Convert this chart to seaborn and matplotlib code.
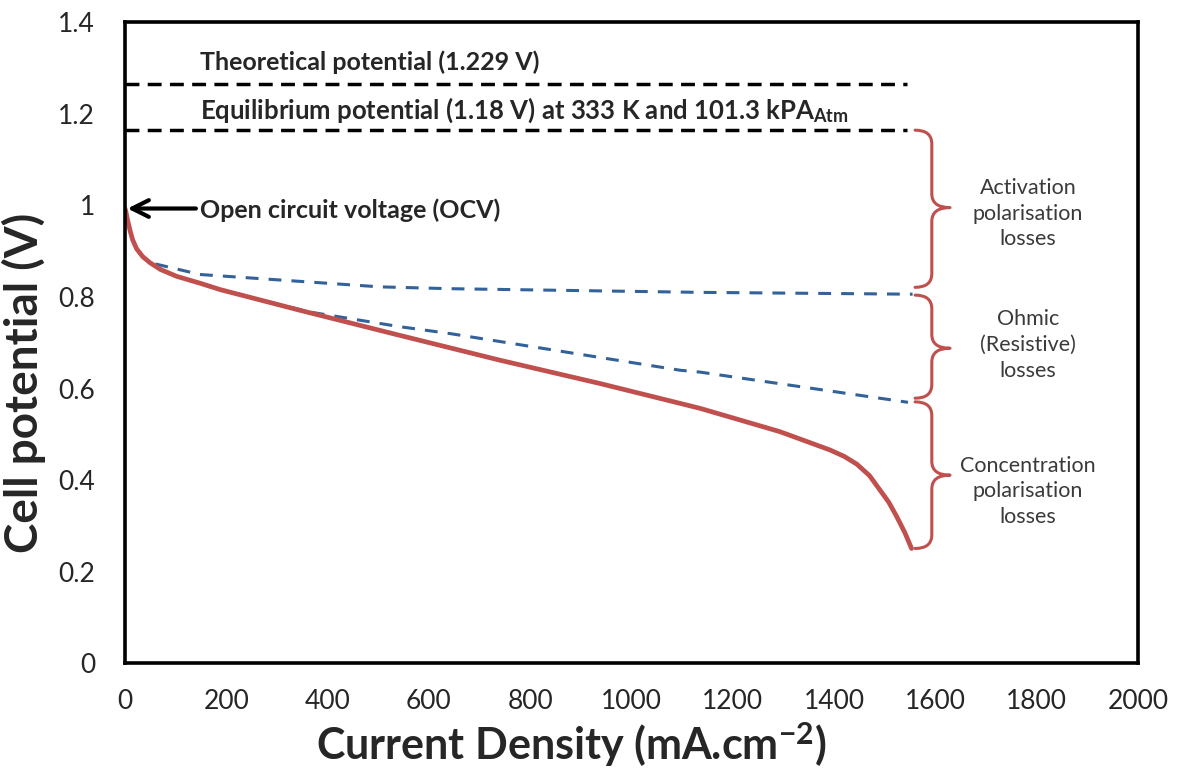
import matplotlib
matplotlib.use("Agg")
import matplotlib.pyplot as plt
from matplotlib.path import Path
from matplotlib.patches import PathPatch
import seaborn as sns
import pandas as pd

# ---------------- data ----------------
current = [0, 2, 5, 10, 15, 23, 35, 49, 70, 102, 148, 188, 345, 543, 740,
           938, 1135, 1293, 1392, 1420, 1445, 1470, 1491, 1508, 1524, 1540, 1553]
potential = [0.993, 0.985, 0.968, 0.945, 0.925, 0.905, 0.888, 0.875, 0.860,
             0.845, 0.830, 0.816, 0.771, 0.716, 0.662, 0.611, 0.557, 0.506,
             0.466, 0.452, 0.435, 0.410, 0.378, 0.352, 0.320, 0.285, 0.251]

activation_x = [60, 148, 503, 642, 1135, 1555]
activation_v = [0.872, 0.849, 0.822, 0.818, 0.810, 0.806]

ohmic_x = [150, 214, 365, 543, 642, 1096, 1135, 1546]
ohmic_v = [0.830, 0.808, 0.767, 0.735, 0.720, 0.640, 0.636, 0.570]

ref_x = [0, 1545]
theoretical_v = 1.264
equilibrium_v = 1.164

# braces: (top, bottom, tip) in V
brace_spans = [(1.164, 0.821, 0.995), (0.804, 0.579, 0.688), (0.571, 0.251, 0.411)]
brace_labels = ["Activation\npolarisation\nlosses",
                "Ohmic\n(Resistive)\nlosses",
                "Concentration\npolarisation\nlosses"]
brace_label_v = [0.982, 0.695, 0.376]

xticks = [0, 200, 400, 600, 800, 1000, 1200, 1400, 1600, 1800, 2000]
yticks = [0, 0.2, 0.4, 0.6, 0.8, 1.0, 1.2, 1.4]
ytick_labels = ["0", "0.2", "0.4", "0.6", "0.8", "1", "1.2", "1.4"]

# ---------------- style ----------------
sns.set_style("white")
plt.rcParams["font.family"] = ["Lato", "DejaVu Sans"]
plt.rcParams["mathtext.fontset"] = "custom"
plt.rcParams["mathtext.rm"] = "Lato"
plt.rcParams["mathtext.bf"] = "Lato:bold"
plt.rcParams["mathtext.it"] = "Lato:italic"

RED = "#C0504D"
BLUE = "#33619A"

fig = plt.figure(figsize=(11.78, 7.76), dpi=100)
ax = fig.add_axes([0.1061, 0.1450, 0.8599, 0.8266])

df_curve = pd.DataFrame({"x": current, "v": potential})
df_act = pd.DataFrame({"x": activation_x, "v": activation_v})
df_ohm = pd.DataFrame({"x": ohmic_x, "v": ohmic_v})
df_th = pd.DataFrame({"x": ref_x, "v": [theoretical_v] * 2})
df_eq = pd.DataFrame({"x": ref_x, "v": [equilibrium_v] * 2})

for d in (df_th, df_eq):
    sns.lineplot(data=d, x="x", y="v", ax=ax, color="black", lw=2.5,
                 estimator=None, linestyle=(0, (4.0, 2.4)))
for d in (df_act, df_ohm):
    sns.lineplot(data=d, x="x", y="v", ax=ax, color=BLUE, lw=2.2,
                 estimator=None, linestyle=(0, (4.2, 3.3)))
sns.lineplot(data=df_curve, x="x", y="v", ax=ax, color=RED, lw=3.4,
             estimator=None, solid_capstyle="round", solid_joinstyle="round")

ax.set_xlim(0, 2000)
ax.set_ylim(0, 1.4)
ax.set_xticks(xticks)
ax.set_xticklabels([str(t) for t in xticks])
ax.set_yticks(yticks)
ax.set_yticklabels(ytick_labels)
ax.set_xticks(range(0, 2001, 50), minor=True)
ax.set_yticks([i * 0.04 for i in range(36)], minor=True)

for s in ax.spines.values():
    s.set_linewidth(2.6)
    s.set_color("black")
ax.tick_params(axis="both", which="major", direction="inout", length=11,
               width=2.2, labelsize=19, labelcolor="#262626", color="black")
ax.tick_params(axis="x", which="major", pad=13)
ax.tick_params(axis="y", which="major", pad=16)
ax.tick_params(axis="x", which="minor", direction="in", length=4.5, width=2)
ax.tick_params(axis="y", which="minor", direction="out", length=3.5, width=2)

ax.set_xlabel("Current Density (mA.cm$^{\\mathbf{-2}}$)", fontsize=31,
              fontweight="bold")
ax.set_ylabel("Cell potential (V)", fontsize=33, fontweight="bold")
ax.xaxis.set_label_coords(0.441, -0.088)
ax.yaxis.set_label_coords(-0.078, 0.437)

# annotations
ax.text(148, 1.312, "Theoretical potential (1.229 V)", fontsize=18,
        fontweight="bold", va="center", ha="left")
ax.text(148, 1.207,
        "Equilibrium potential (1.18 V) at 333 K and 101.3 kPA$_{\\mathbf{Atm}}$",
        fontsize=18.5, fontweight="bold", va="center", ha="left")
ax.text(148, 0.989, "Open circuit voltage (OCV)", fontsize=18,
        fontweight="bold", va="center", ha="left")
ax.annotate("", xy=(5, 0.993), xytext=(140, 0.993),
            arrowprops=dict(arrowstyle="->", lw=3, color="black",
                            mutation_scale=30, shrinkA=0, shrinkB=0))


def draw_brace(top, bot, tip, xl=1560, xm=1593, xt=1629, ry=0.03):
    verts = [(xl, top), (xm, top), (xm, top - ry),
             (xm, tip + ry),
             (xm, tip), (xt, tip),
             (xm, tip), (xm, tip - ry),
             (xm, bot + ry),
             (xm, bot), (xl, bot)]
    codes = [Path.MOVETO, Path.CURVE3, Path.CURVE3,
             Path.LINETO,
             Path.CURVE3, Path.CURVE3,
             Path.CURVE3, Path.CURVE3,
             Path.LINETO,
             Path.CURVE3, Path.CURVE3]
    ax.add_patch(PathPatch(Path(verts, codes), fill=False, edgecolor=RED,
                           lw=2.2, capstyle="round", joinstyle="round"))


for (top, bot, tip), lab, lv in zip(brace_spans, brace_labels, brace_label_v):
    draw_brace(top, bot, tip)
    ax.text(1783, lv, lab, fontsize=15.5, color="#3a3a3a", ha="center",
            va="center", linespacing=1.35)

fig.savefig("out.png", dpi=100)
